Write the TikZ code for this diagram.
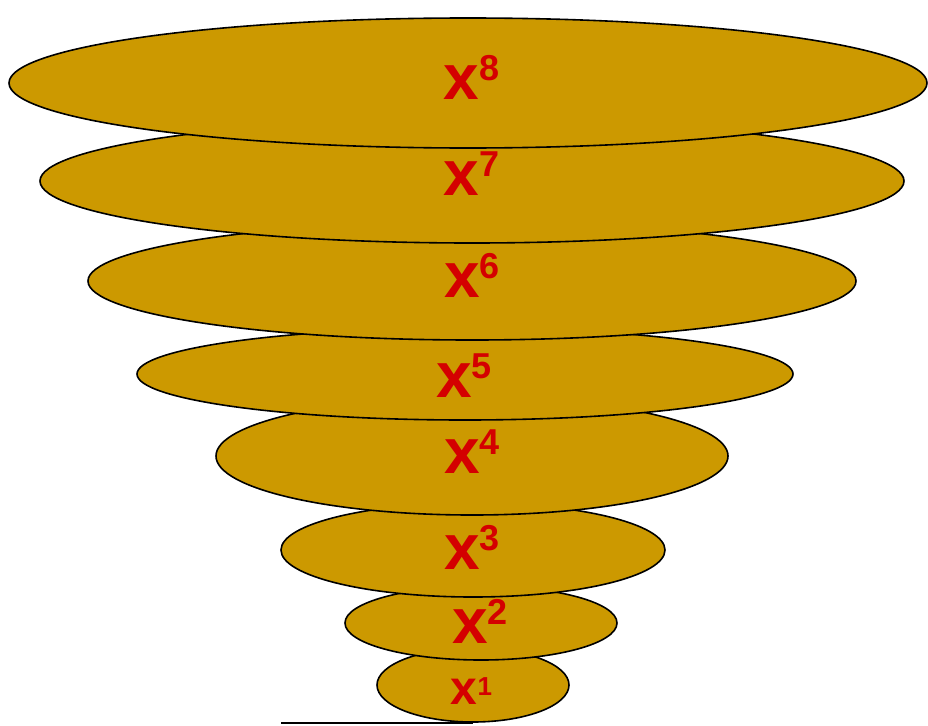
\documentclass[tikz,border=0pt]{standalone}
\usepackage{fontspec}
\setmainfont{Liberation Sans}
\usetikzlibrary{shapes.geometric}
\definecolor{cakegold}{RGB}{204,153,0}
\definecolor{powred}{RGB}{212,0,0}
\newcommand{\powx}[4]{{\fontsize{#1}{#1}\selectfont x}\raisebox{#3pt}{\fontsize{#2}{#2}\selectfont #4}}
\tikzset{
  layer/.style={draw, ellipse, line width=1.6pt, fill=cakegold, inner sep=0pt},
  powlabel/.style={text=powred, inner sep=0pt, font=\bfseries},
  baseline/.style={line width=1.4pt}
}

\begin{document}
\begin{tikzpicture}[x=1pt, y=-1pt]
  \useasboundingbox (0,0) rectangle (928,725);
  \coordinate (baseL) at (281,723);
  \coordinate (baseR) at (473,723);
  \draw[baseline] (baseL) -- (baseR);

  % stacked layers, smallest first
  \foreach \n/\cx/\cy/\rx/\ry in {1/473/685/96/37, 2/481/623/136/37, 3/473/550/192/47,
      4/472/456/256/59, 5/465/374/328/46, 6/472/281/384/59, 7/472/181/432/62, 8/468/83/459/65}
    \node[layer, minimum width=2*\rx, minimum height=2*\ry] (e\n) at (\cx,\cy) {};

  % powers of x
  \foreach \n/\lx/\ly/\fs/\ss/\rs in {1/471.5/691/48/26/9, 2/480/621/64/36/19, 3/472/547.5/64/36/19,
      4/472/452/64/36/19, 5/464/376/64/36/19, 6/472/275/64/36/19, 7/471.5/173.5/64/36/19, 8/471.5/77.5/64/36/19}
    \node[powlabel] (l\n) at (\lx,\ly) {\powx{\fs}{\ss}{\rs}{\n}};
\end{tikzpicture}
\end{document}
